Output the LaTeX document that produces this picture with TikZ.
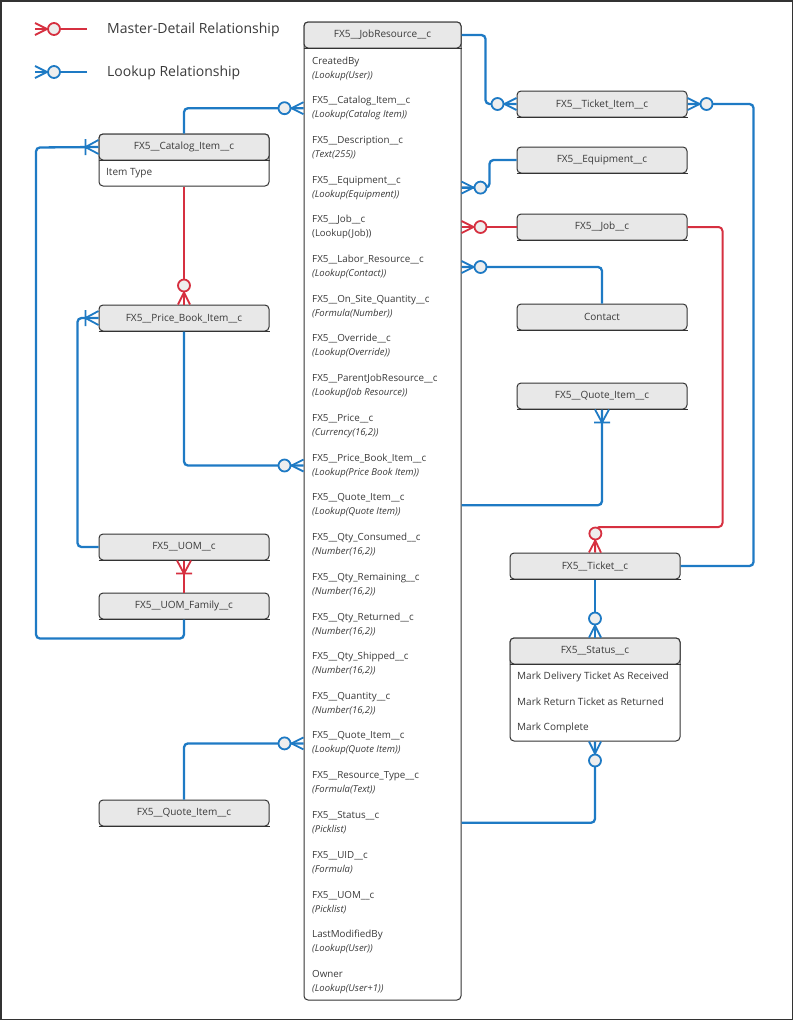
\documentclass[tikz,border=0pt]{standalone}
\usepackage{fontspec}
\setmainfont{Open Sans}
\usetikzlibrary{decorations.markings}

\definecolor{lookupblue}{HTML}{1E7AC4}
\definecolor{mdred}{HTML}{D63040}
\definecolor{boxfill}{HTML}{E8E8E8}
\definecolor{boxline}{HTML}{333333}
\definecolor{ringfill}{HTML}{EEEEEE}
\definecolor{inktext}{HTML}{3A3A3A}

\tikzset{
  entity/.style={draw=boxline, fill=boxfill, line width=1pt, rounded corners=4pt,
    minimum width=170pt, minimum height=26pt, inner sep=0pt, text=inktext,
    font=\fontsize{10}{12}\selectfont},
  tablebody/.style={draw=boxline, fill=white, line width=1pt, rounded corners=4pt,
    minimum width=170pt, inner sep=0pt},
  field/.style={anchor=west, align=left, inner sep=0pt, text=inktext,
    font=\fontsize{9.8}{14}\selectfont},
  item/.style={anchor=west, inner sep=0pt, text=inktext, font=\fontsize{10}{12}\selectfont},
  legendtext/.style={anchor=west, inner sep=0pt, text=inktext, font=\fontsize{14}{16}\selectfont},
  lookup/.style={color=lookupblue, line width=2.3pt, rounded corners=4pt},
  mdetail/.style={color=mdred, line width=2pt, rounded corners=4pt},
  manyring/.style={postaction={decorate, decoration={markings, mark=at position 1 with {
    \draw[sharp corners, line width=1.8pt] (-12,0) -- (0,6) (-12,0) -- (0,-6);
    \draw[line width=1.8pt, fill=ringfill] (-19,0) circle (6);}}}},
  manybar/.style={postaction={decorate, decoration={markings, mark=at position 1 with {
    \draw[sharp corners, line width=1.8pt] (-13,0) -- (0,7) (-13,0) -- (0,-7)
      (-13,-8) -- (-13,8);}}}}
}

\newcommand{\typefont}{\itshape\fontsize{9.5}{14}\selectfont}

\begin{document}
\begin{tikzpicture}[x=1pt, y=-1pt]
  \useasboundingbox (0,0) rectangle (793,1020);
  \draw[boxline, line width=1.5pt] (0.75,0.75) rectangle (792.25,1019.25);

  % Legende
  \coordinate (mdA) at (87,29);
  \coordinate (mdB) at (35,29);
  \coordinate (luA) at (87,72);
  \coordinate (luB) at (35,72);
  \draw[mdetail, manyring] (mdA) -- (mdB);
  \draw[lookup, manyring] (luA) -- (luB);
  \node[legendtext] (mdtext) at (107,30) {Master-Detail Relationship};
  \node[legendtext] (lutext) at (107,73) {Lookup Relationship};

  % Haupttabelle
  \node[tablebody, minimum width=157pt, minimum height=978pt] (jrbody) at (382.5,511) {};
  \node[entity, minimum width=157pt] (jr) at (382.5,35) {FX5\_\_JobResource\_\_c};
  \foreach \fname/\ftype [count=\i] in {
      CreatedBy/(Lookup(User)),
      FX5\_\_Catalog\_Item\_\_c/(Lookup(Catalog Item)),
      FX5\_\_Description\_\_c/(Text(255)),
      FX5\_\_Equipment\_\_c/(Lookup(Equipment)),
      FX5\_\_Job\_\_c/{\upshape(Lookup(Job))},
      FX5\_\_Labor\_Resource\_\_c/(Lookup(Contact)),
      FX5\_\_On\_Site\_Quantity\_\_c/(Formula(Number)),
      FX5\_\_Override\_\_c/(Lookup(Override)),
      FX5\_\_ParentJobResource\_\_c/(Lookup(Job Resource)),
      FX5\_\_Price\_\_c/{(Currency(16,2))},
      FX5\_\_Price\_Book\_Item\_\_c/(Lookup(Price Book Item)),
      FX5\_\_Quote\_Item\_\_c/(Lookup(Quote Item)),
      FX5\_\_Qty\_Consumed\_\_c/{(Number(16,2))},
      FX5\_\_Qty\_Remaining\_\_c/{(Number(16,2))},
      FX5\_\_Qty\_Returned\_\_c/{(Number(16,2))},
      FX5\_\_Qty\_Shipped\_\_c/{(Number(16,2))},
      FX5\_\_Quantity\_\_c/{(Number(16,2))},
      FX5\_\_Quote\_Item\_\_c/(Lookup(Quote Item)),
      FX5\_\_Resource\_Type\_\_c/(Formula(Text)),
      FX5\_\_Status\_\_c/(Picklist),
      FX5\_\_UID\_\_c/(Formula),
      FX5\_\_UOM\_\_c/(Picklist),
      LastModifiedBy/(Lookup(User)),
      Owner/(Lookup(User+1))}
    \node[field] (f\i) at (312,{68.5+39.7*(\i-1)}) {\fname\\{\typefont\ftype}};

  % rechte Tabellen
  \node[entity] (ticketitem) at (602,104) {FX5\_\_Ticket\_Item\_\_c};
  \node[entity] (equip) at (602,160) {FX5\_\_Equipment\_\_c};
  \node[entity] (job) at (602,227) {FX5\_\_Job\_\_c};
  \node[entity] (contact) at (602,317) {Contact};
  \node[entity] (quoteR) at (602,396) {FX5\_\_Quote\_Item\_\_c};
  \node[entity] (ticket) at (595,566) {FX5\_\_Ticket\_\_c};
  \node[tablebody, minimum height=103pt] (statbody) at (595,689.5) {};
  \node[entity] (status) at (595,651) {FX5\_\_Status\_\_c};
  \node[item] (st1) at (517,677) {Mark Delivery Ticket As Received};
  \node[item] (st2) at (517,702) {Mark Return Ticket as Returned};
  \node[item] (st3) at (517,728) {Mark Complete};

  % linke Tabellen
  \node[tablebody, minimum height=52pt] (catbody) at (184,160) {};
  \node[entity] (cat) at (184,147) {FX5\_\_Catalog\_Item\_\_c};
  \node[item] (cattype) at (106,173) {Item Type};
  \node[entity] (pbi) at (184,318) {FX5\_\_Price\_Book\_Item\_\_c};
  \node[entity] (uom) at (184,547) {FX5\_\_UOM\_\_c};
  \node[entity] (uomfam) at (184,606) {FX5\_\_UOM\_Family\_\_c};
  \node[entity] (quoteL) at (184,813) {FX5\_\_Quote\_Item\_\_c};

  % Unterkanten
  \foreach \n in {jr,ticketitem,equip,job,contact,quoteR,ticket,status,cat,pbi,uom,uomfam,quoteL}
    \draw[boxline, line width=1.2pt] (\n.south west) -- (\n.south east);

  % Beziehungen rechts
  \draw[lookup, manyring] (jr.east) -- ++(24,0) |- (ticketitem.west);
  \draw[lookup, manyring] (ticket.east) -- ++(73,0) |- (ticketitem.east);
  \draw[lookup, manyring] (equip.west) -- ++(-27,0) |- (jrbody.east |- f4);
  \draw[mdetail, manyring] (job.west) -- (jrbody.east |- job.west);
  \draw[lookup, manyring] (contact.north) |- (jrbody.east |- f6);
  \draw[lookup, manybar] (jrbody.east |- f12) -| (quoteR.south);
  \draw[mdetail, manyring] (job.east) -- ++(35,0) |- ++(-127,300) -- (ticket.north);
  \draw[lookup, manyring] (ticket.south) -- (status.north);
  \draw[lookup, manyring] (jrbody.east |- f20) -| (statbody.south);

  % Beziehungen links
  \draw[lookup, manyring] (cat.north) |- (jrbody.west |- f2);
  \draw[lookup, manybar] (uomfam.south) -- ++(0,19) -| ++(-148,-491) -- (cat.west);
  \draw[mdetail, manyring] (catbody.south) -- (pbi.north);
  \draw[lookup, manybar] (uom.west) -- ++(-21,0) |- (pbi.west);
  \draw[lookup, manyring] (pbi.south) |- (jrbody.west |- f11);
  \draw[mdetail, manybar] (uomfam.north) -- (uom.south);
  \draw[lookup, manyring] (quoteL.north) |- (jrbody.west |- f18);
\end{tikzpicture}
\end{document}
